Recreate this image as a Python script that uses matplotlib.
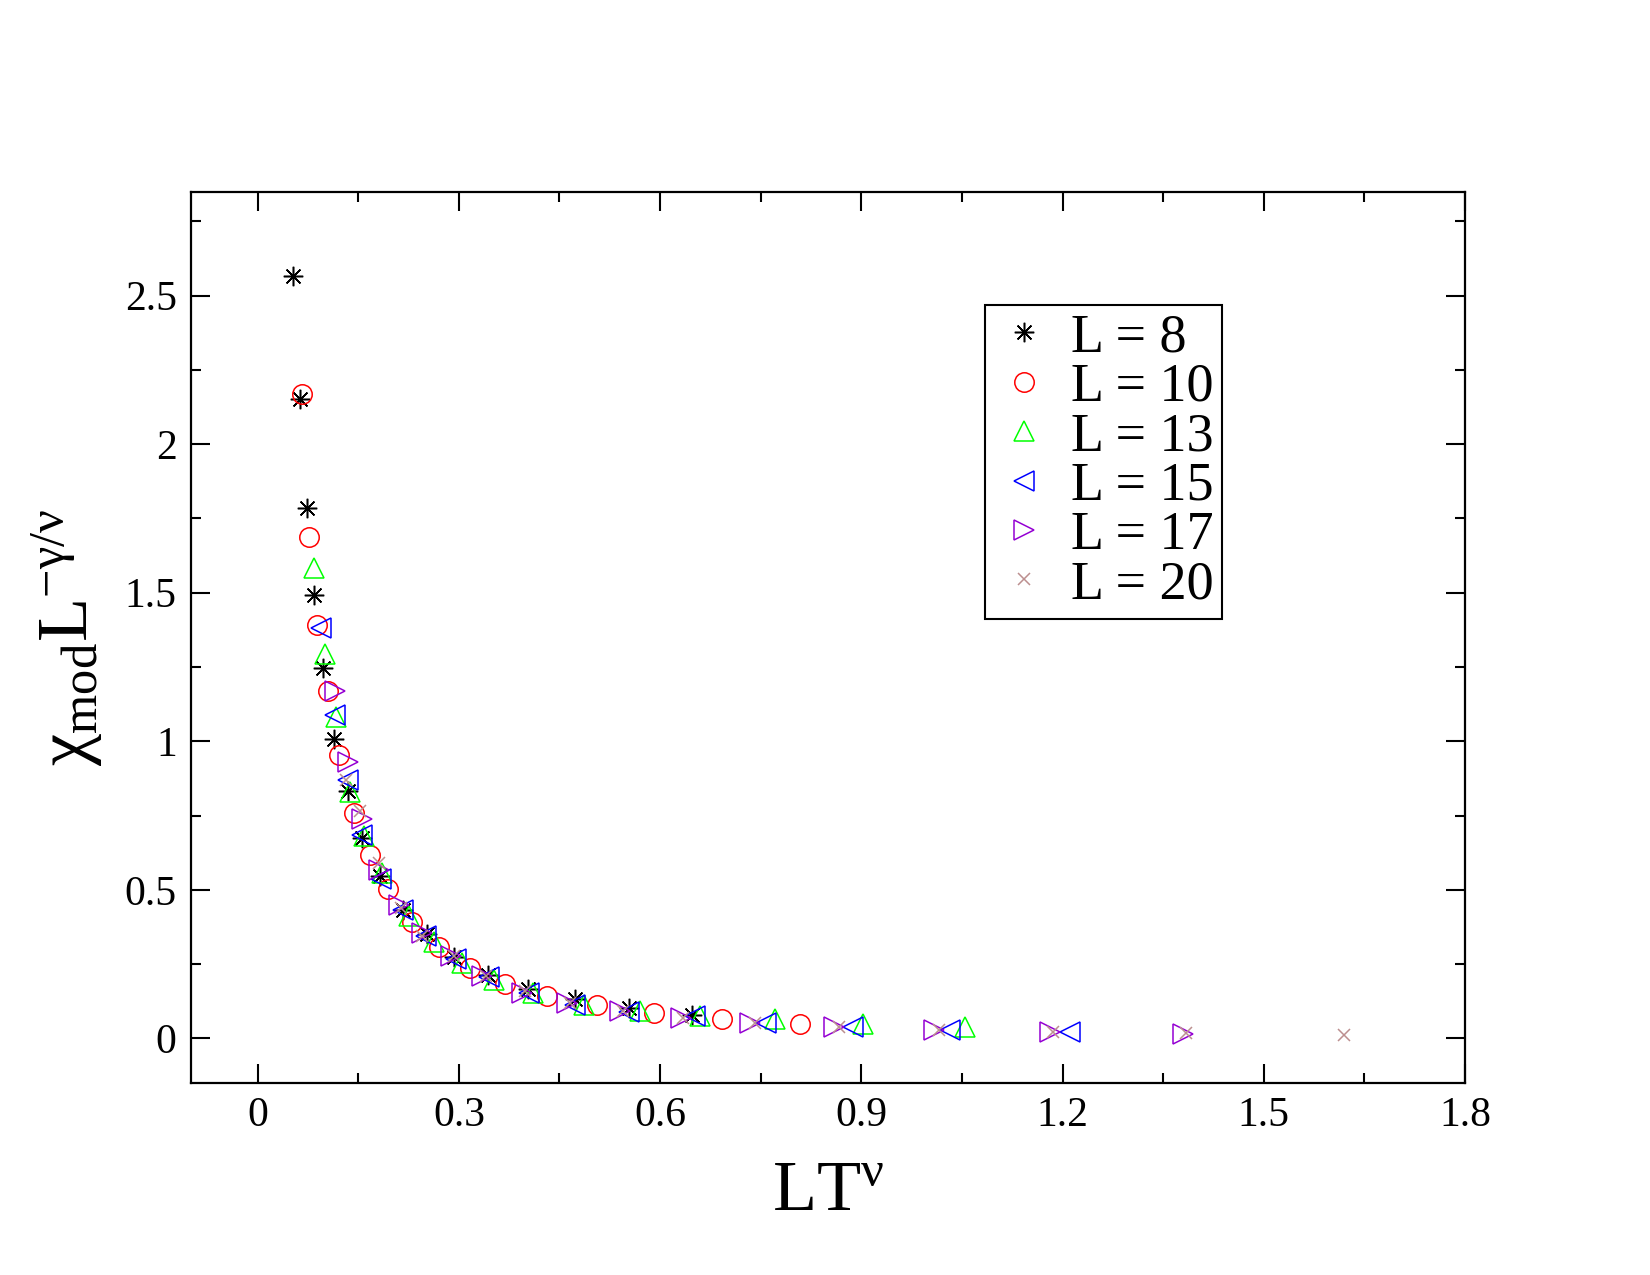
import matplotlib
matplotlib.use("Agg")
import matplotlib.pyplot as plt
from matplotlib.ticker import MultipleLocator, AutoMinorLocator, FormatStrFormatter

plt.rcParams['font.family'] = ['Liberation Serif', 'DejaVu Serif']
plt.rcParams['mathtext.fontset'] = 'custom'
plt.rcParams['mathtext.rm'] = 'Liberation Serif'
plt.rcParams['mathtext.it'] = 'Liberation Serif:italic'

# donnees (LT^nu, chi_mod L^-gamma/nu)
x8 = [0.052, 0.0625, 0.073, 0.084, 0.098, 0.114, 0.134, 0.156, 0.183, 0.217, 0.252,
      0.292, 0.344, 0.403, 0.473, 0.553, 0.648]
y8 = [2.567, 2.153, 1.785, 1.491, 1.246, 1.009, 0.832, 0.673, 0.545, 0.432, 0.351,
      0.273, 0.212, 0.166, 0.131, 0.103, 0.078]

x10 = [0.066, 0.077, 0.089, 0.105, 0.122, 0.144, 0.167, 0.195, 0.230, 0.270, 0.316,
       0.369, 0.431, 0.506, 0.591, 0.692, 0.809]
y10 = [2.167, 1.689, 1.392, 1.169, 0.953, 0.758, 0.616, 0.503, 0.393, 0.308, 0.237,
       0.184, 0.142, 0.113, 0.085, 0.064, 0.050]

x13 = [0.084, 0.100, 0.117, 0.137, 0.159, 0.186, 0.226, 0.263, 0.305, 0.352, 0.411,
       0.486, 0.570, 0.659, 0.772, 0.902, 1.055]
y13 = [1.583, 1.292, 1.080, 0.830, 0.680, 0.556, 0.411, 0.326, 0.255, 0.195, 0.152,
       0.113, 0.092, 0.074, 0.064, 0.050, 0.039]

x15 = [0.095, 0.115, 0.134, 0.156, 0.184, 0.216, 0.251, 0.295, 0.345, 0.404, 0.473,
       0.553, 0.652, 0.758, 0.887, 1.032, 1.211]
y15 = [1.381, 1.089, 0.871, 0.685, 0.538, 0.432, 0.343, 0.266, 0.205, 0.152, 0.113,
       0.090, 0.074, 0.053, 0.039, 0.028, 0.021]

x17 = [0.115, 0.134, 0.156, 0.181, 0.211, 0.245, 0.288, 0.334, 0.394, 0.461, 0.540,
       0.631, 0.734, 0.859, 1.008, 1.181, 1.380]
y17 = [1.169, 0.931, 0.737, 0.567, 0.450, 0.354, 0.276, 0.209, 0.152, 0.120, 0.092,
       0.069, 0.053, 0.039, 0.028, 0.021, 0.014]

x20 = [0.132, 0.152, 0.181, 0.214, 0.245, 0.292, 0.340, 0.399, 0.466, 0.545, 0.634,
       0.741, 0.867, 1.016, 1.186, 1.384, 1.619]
y20 = [0.871, 0.765, 0.591, 0.439, 0.343, 0.276, 0.209, 0.159, 0.120, 0.091, 0.069,
       0.053, 0.039, 0.028, 0.021, 0.018, 0.012]

labels = ["L = 8", "L = 10", "L = 13", "L = 15", "L = 17", "L = 20"]

fig = plt.figure(figsize=(16.5, 12.75), dpi=100, facecolor="white")
ax = fig.add_axes([0.1155, 0.1506, 0.7724, 0.6992])

mew = 1.1
ax.plot(x8, y8, linestyle="none", marker=(8, 2, 0), ms=14, mew=mew, color="black", label=labels[0])
ax.plot(x10, y10, linestyle="none", marker="o", ms=14, mew=mew, mfc="none", mec="red", label=labels[1])
ax.plot(x13, y13, linestyle="none", marker="^", ms=14, mew=mew, mfc="none", mec="#00ff00", label=labels[2])
ax.plot(x15, y15, linestyle="none", marker="<", ms=14, mew=mew, mfc="none", mec="blue", label=labels[3])
ax.plot(x17, y17, linestyle="none", marker=">", ms=14, mew=mew, mfc="none", mec="#9400d3", label=labels[4])
ax.plot(x20, y20, linestyle="none", marker="x", ms=9, mew=mew, color="#bc8f8f", label=labels[5])

ax.set_xlim(-0.1, 1.8)
ax.set_ylim(-0.15, 2.85)
ax.xaxis.set_major_locator(MultipleLocator(0.3))
ax.xaxis.set_minor_locator(AutoMinorLocator(2))
ax.yaxis.set_major_locator(MultipleLocator(0.5))
ax.yaxis.set_minor_locator(AutoMinorLocator(2))
ax.xaxis.set_major_formatter(FormatStrFormatter('%g'))
ax.yaxis.set_major_formatter(FormatStrFormatter('%g'))

ax.tick_params(which="both", direction="in", top=True, right=True, width=1.5, labelsize=30, pad=10)
ax.tick_params(which="major", length=14)
ax.tick_params(which="minor", length=7)
for sp in ax.spines.values():
    sp.set_linewidth(1.6)

ax.set_xlabel(r"$\mathrm{LT}^{\mathrm{\nu}}$", fontsize=52, labelpad=18)
ax.set_ylabel(r"$\mathrm{\chi}_{\mathrm{mod}}\mathrm{L}^{-\mathrm{\gamma}/\mathrm{\nu}}$", fontsize=52, labelpad=14)

leg = ax.legend(loc="upper left", bbox_to_anchor=(0.597, 0.761), bbox_transform=fig.transFigure,
                borderaxespad=0, fontsize=39, handlelength=1.12, handletextpad=0.32,
                borderpad=0.15, labelspacing=-0.02, fancybox=False, framealpha=1,
                edgecolor="black", numpoints=1)
leg.get_frame().set_linewidth(1.5)

fig.savefig("out.png", dpi=100)
plt.close(fig)
